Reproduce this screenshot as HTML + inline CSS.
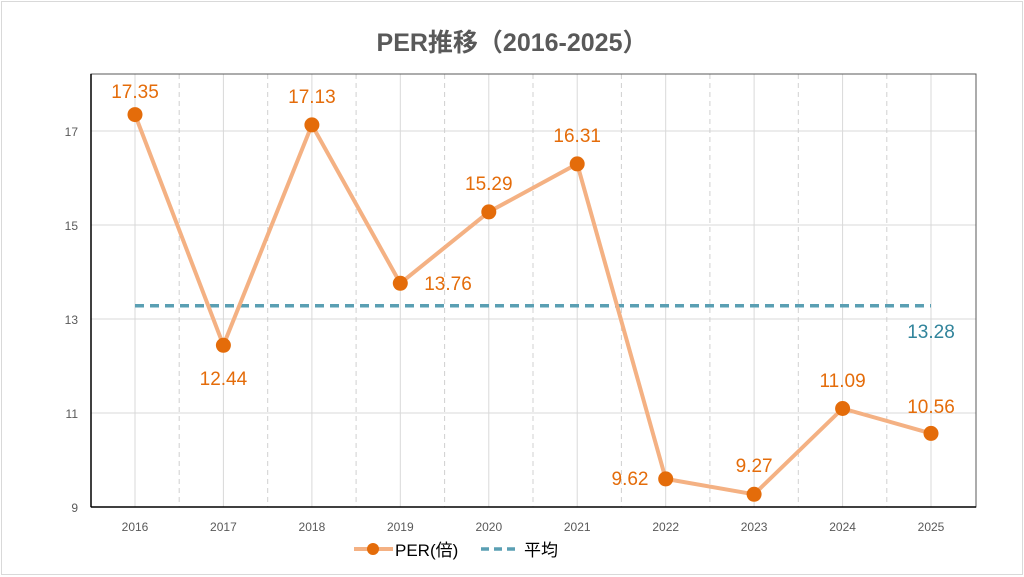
<!DOCTYPE html>
<html><head><meta charset="utf-8"><style>
body{margin:0;background:#fff;}
svg{display:block;font-family:"Liberation Sans","Noto Sans CJK JP",sans-serif;}
</style></head><body>
<svg width="1024" height="577" viewBox="0 0 1024 577">
<rect x="1.5" y="1.5" width="1021" height="573" fill="#fff" stroke="#d9d9d9"/>
<text x="512" y="51" text-anchor="middle" font-size="25" font-weight="bold" fill="#595959">PER推移（2016-2025）</text>
<g stroke="#d9d9d9" stroke-width="1">
<line x1="91" x2="976" y1="131" y2="131"/><line x1="91" x2="976" y1="225" y2="225"/>
<line x1="91" x2="976" y1="319" y2="319"/><line x1="91" x2="976" y1="413" y2="413"/>
<line x1="135" x2="135" y1="74" y2="507"/><line x1="223.4" x2="223.4" y1="74" y2="507"/>
<line x1="311.9" x2="311.9" y1="74" y2="507"/><line x1="400.3" x2="400.3" y1="74" y2="507"/>
<line x1="488.8" x2="488.8" y1="74" y2="507"/><line x1="577.2" x2="577.2" y1="74" y2="507"/>
<line x1="665.7" x2="665.7" y1="74" y2="507"/><line x1="754.1" x2="754.1" y1="74" y2="507"/>
<line x1="842.6" x2="842.6" y1="74" y2="507"/><line x1="931" x2="931" y1="74" y2="507"/>
</g>
<g stroke="#d0d0d0" stroke-width="1" stroke-dasharray="5,4">
<line x1="179.2" x2="179.2" y1="74" y2="507"/><line x1="267.7" x2="267.7" y1="74" y2="507"/>
<line x1="356.1" x2="356.1" y1="74" y2="507"/><line x1="444.6" x2="444.6" y1="74" y2="507"/>
<line x1="533" x2="533" y1="74" y2="507"/><line x1="621.4" x2="621.4" y1="74" y2="507"/>
<line x1="709.9" x2="709.9" y1="74" y2="507"/><line x1="798.3" x2="798.3" y1="74" y2="507"/>
<line x1="886.8" x2="886.8" y1="74" y2="507"/>
</g>
<rect x="91" y="74" width="885" height="433" fill="none" stroke="#595959" stroke-width="1"/>
<line x1="91" x2="91" y1="74" y2="507" stroke="#000" stroke-width="1.5"/>
<line x1="91" x2="976" y1="507" y2="507" stroke="#000" stroke-width="1.5"/>
<g font-size="12" fill="#595959" text-anchor="end">
<text x="78" y="136">17</text><text x="78" y="230">15</text><text x="78" y="324">13</text><text x="78" y="418">11</text><text x="78" y="512">9</text>
</g>
<g font-size="12" fill="#595959" text-anchor="middle">
<text x="135" y="531">2016</text><text x="223.4" y="531">2017</text><text x="311.9" y="531">2018</text><text x="400.3" y="531">2019</text><text x="488.8" y="531">2020</text><text x="577.2" y="531">2021</text><text x="665.7" y="531">2022</text><text x="754.1" y="531">2023</text><text x="842.6" y="531">2024</text><text x="931" y="531">2025</text>
</g>
<line x1="135" x2="931" y1="305.8" y2="305.8" stroke="#5a9fb3" stroke-width="3.5" stroke-dasharray="9,6"/>
<polyline fill="none" stroke="#f4b183" stroke-width="4" stroke-linejoin="round" points="135,114.6 223.4,345.3 311.9,124.9 400.3,283.3 488.8,211.9 577.2,163.9 665.7,478.9 754.1,494.3 842.6,408.5 931,433.4"/>
<g fill="#e46c0a">
<circle cx="135" cy="114.6" r="7.5"/><circle cx="223.4" cy="345.3" r="7.5"/><circle cx="311.9" cy="124.9" r="7.5"/><circle cx="400.3" cy="283.3" r="7.5"/><circle cx="488.8" cy="211.9" r="7.5"/><circle cx="577.2" cy="163.9" r="7.5"/><circle cx="665.7" cy="478.9" r="7.5"/><circle cx="754.1" cy="494.3" r="7.5"/><circle cx="842.6" cy="408.5" r="7.5"/><circle cx="931" cy="433.4" r="7.5"/>
</g>
<g font-size="19" fill="#e46c0a" text-anchor="middle">
<text x="135" y="98">17.35</text><text x="223.4" y="385">12.44</text><text x="311.9" y="103">17.13</text>
<text x="448" y="290" text-anchor="middle">13.76</text><text x="488.8" y="190">15.29</text><text x="577.2" y="142">16.31</text>
<text x="630" y="485">9.62</text><text x="754.1" y="472">9.27</text><text x="842.6" y="387">11.09</text><text x="931" y="413">10.56</text>
</g>
<text x="931" y="338" font-size="19" fill="#31849b" text-anchor="middle">13.28</text>
<line x1="354" x2="393" y1="549" y2="549" stroke="#f4b183" stroke-width="4"/>
<circle cx="373" cy="549" r="6" fill="#e46c0a"/>
<text x="395" y="556" font-size="17" fill="#000">PER(倍)</text>
<line x1="481" x2="518" y1="549" y2="549" stroke="#5a9fb3" stroke-width="3.5" stroke-dasharray="8,5"/>
<text x="524" y="556" font-size="17" fill="#000">平均</text>
</svg>
</body></html>
